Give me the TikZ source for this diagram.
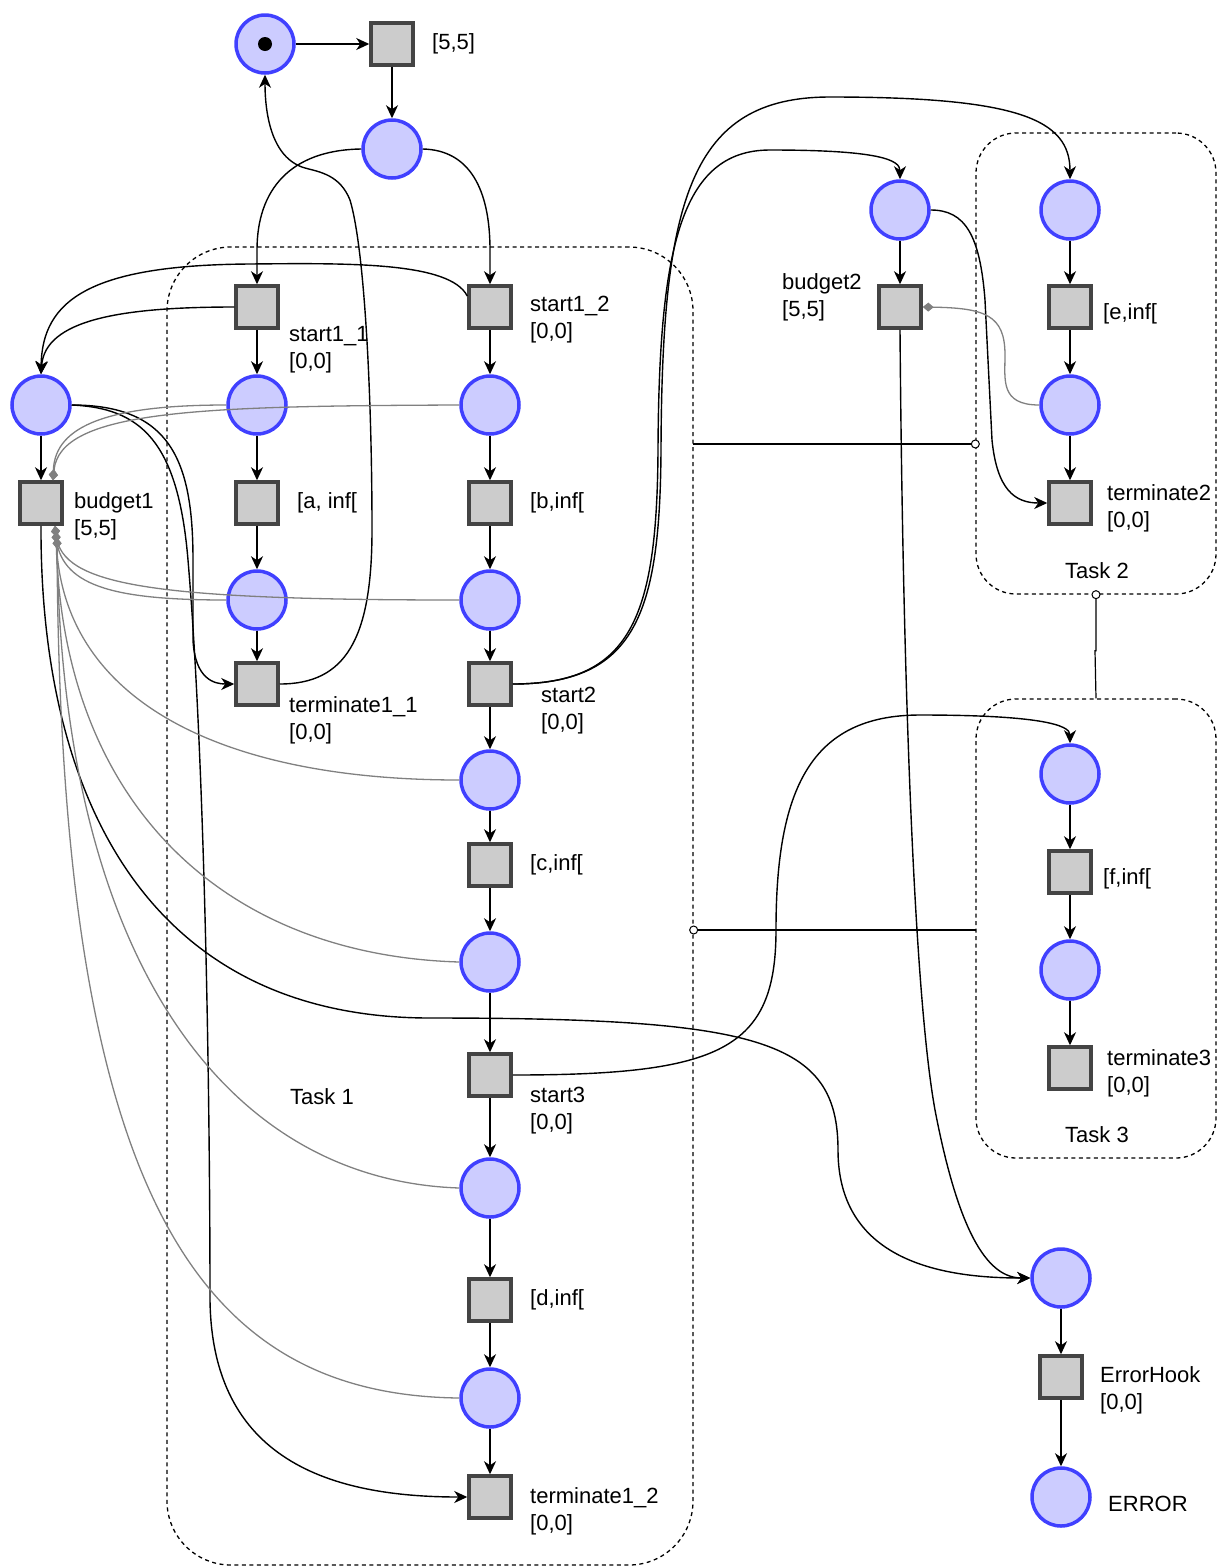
\documentclass[tikz,border=0pt]{standalone}
\usepackage{fontspec}
\setmainfont{Liberation Sans}
\usetikzlibrary{arrows.meta}
\definecolor{pfill}{HTML}{CCCCFF}
\definecolor{pline}{HTML}{4040FF}
\definecolor{tfill}{HTML}{CCCCCC}
\definecolor{tline}{HTML}{444444}
\definecolor{rdgray}{HTML}{808080}
\begin{document}
\begin{tikzpicture}[x=1pt,y=-1pt,
  font=\fontsize{22}{27}\selectfont,
  place/.style={circle, draw=pline, fill=pfill, line width=3.5pt, minimum size=58pt, inner sep=0pt},
  trans/.style={rectangle, draw=tline, fill=tfill, line width=3.5pt, minimum size=42pt, inner sep=0pt},
  lbl/.style={anchor=west, inner sep=0pt, align=left},
  arc/.style={draw=black, line width=1.4pt, -{Stealth[length=13pt,width=12pt,inset=4pt]}},
  rd/.style={draw=rdgray, line width=1.3pt, -{Diamond[length=11pt,width=9pt,fill=rdgray]}},
  taskbox/.style={rectangle, draw=black, dash pattern=on 4pt off 3.5pt, line width=1.3pt, rounded corners=#1, inner sep=0pt},
  link/.style={draw=black, line width=1.2pt},
  ring/.style={circle, draw=black, fill=white, line width=1pt, minimum size=8pt, inner sep=0pt}]
\useasboundingbox (0,0) rectangle (1217,1567);

% task boxes
\node[taskbox=64pt, minimum width=526pt, minimum height=1318pt] (task1) at (430,906) {};
\node[taskbox=40pt, minimum width=240pt, minimum height=461pt] (task2) at (1096,363.5) {};
\node[taskbox=40pt, minimum width=240pt, minimum height=459pt] (task3) at (1096,928.5) {};

% places and transitions
\node[place] (p0) at (265,44) {};
\node[circle, fill=black, minimum size=14pt, inner sep=0pt] (tok) at (265,44) {};
\node[trans] (t0) at (392,44) {};
\node[place] (p1) at (392,149) {};
\node[trans] (ts11) at (257,307) {};
\node[trans] (ts12) at (490,307) {};
\node[place] (pb1) at (41,405) {};
\node[trans] (tb1) at (41,503) {};
\node[place] (pa) at (257,405) {};
\node[trans] (ta) at (257,503) {};
\node[place] (pa2) at (257,600) {};
\node[trans] (tt11) at (257,684) {};
\node[place] (pb) at (490,405) {};
\node[trans] (tb) at (490,503) {};
\node[place] (pb2) at (490,600) {};
\node[trans] (ts2) at (490,684) {};
\node[place] (pc) at (490,780) {};
\node[trans] (tc) at (490,865) {};
\node[place] (pc2) at (490,962) {};
\node[trans] (ts3) at (490,1075) {};
\node[place] (pd) at (490,1188) {};
\node[trans] (td) at (490,1300) {};
\node[place] (pd2) at (490,1398) {};
\node[trans] (tt12) at (490,1497) {};
\node[place] (pb2p) at (900,210) {};
\node[trans] (tb2) at (900,307) {};
\node[place] (pe) at (1070,210) {};
\node[trans] (te) at (1070,307) {};
\node[place] (pe2) at (1070,405) {};
\node[trans] (tt2) at (1070,503) {};
\node[place] (pf) at (1070,774) {};
\node[trans] (tf) at (1070,872) {};
\node[place] (pf2) at (1070,970) {};
\node[trans] (tt3) at (1070,1068) {};
\node[place] (perr) at (1061,1278) {};
\node[trans] (teh) at (1061,1377) {};
\node[place] (perror) at (1061,1497) {};

% labels
\node[lbl] (l0) at (432,44) {[5,5]};
\node[lbl] (l11) at (289,350) {start1\_1\\{}[0,0]};
\node[lbl] (l12) at (530,320) {start1\_2\\{}[0,0]};
\node[lbl] (lb1) at (74,516) {budget1\\{}[5,5]};
\node[lbl] (la) at (297,503) {[a, inf[};
\node[lbl] (lb) at (530,503) {[b,inf[};
\node[lbl] (lt11) at (289,720) {terminate1\_1\\{}[0,0]};
\node[lbl] (ls2) at (541,711) {start2\\{}[0,0]};
\node[lbl] (lc) at (530,865) {[c,inf[};
\node[lbl] (ls3) at (530,1111) {start3\\{}[0,0]};
\node[lbl] (ld) at (530,1300) {[d,inf[};
\node[lbl] (lt12) at (530,1511) {terminate1\_2\\{}[0,0]};
\node (ltask1) at (322,1097) {Task 1};
\node[lbl] (lb2) at (782,297) {budget2\\{}[5,5]};
\node[lbl] (le) at (1103,314) {[e,inf[};
\node[lbl] (lt2) at (1107,508) {terminate2\\{}[0,0]};
\node (ltask2) at (1097,571) {Task 2};
\node[lbl] (lf) at (1103,879) {[f,inf[};
\node[lbl] (lt3) at (1107,1073) {terminate3\\{}[0,0]};
\node (ltask3) at (1097,1135) {Task 3};
\node[lbl] (leh) at (1100,1390) {ErrorHook\\{}[0,0]};
\node[lbl] (lerr) at (1108,1504) {ERROR};

% links between task boxes
\coordinate (k1) at (693,444);
\coordinate (k2) at (976,930);
\draw[link] (k1) -- (k1 -| task2.west);
\node[ring] (r1) at (k1 -| task2.west) {};
\draw[link] (k2) -- (k2 -| task1.east);
\node[ring] (r2) at (k2 -| task1.east) {};
\draw[link] (task2.south) -- ++(0,56) -- ++(-1,0) -- (task3.north);
\node[ring] (r3) at (task2.south) {};

% straight arcs
\foreach \a/\b in {p0/t0,t0/p1,ts11/pa,pa/ta,ta/pa2,pa2/tt11,ts12/pb,pb/tb,tb/pb2,pb2/ts2,ts2/pc,pc/tc,tc/pc2,pc2/ts3,ts3/pd,pd/td,td/pd2,pd2/tt12,pb1/tb1,pb2p/tb2,pe/te,te/pe2,pe2/tt2,pf/tf,tf/pf2,pf2/tt3,perr/teh,teh/perror}
  \draw[arc] (\a) -- (\b);

% curved arcs
\draw[arc] (p1.west) .. controls (290,150) and (257,190) .. (257,250) -- (ts11.north);
\draw[arc] (p1.east) .. controls (470,150) and (490,190) .. (490,250) -- (ts12.north);
\draw[arc] (tt11.east) .. controls (345,684) and (372,640) .. (372,530)
   .. controls (372,400) and (365,250) .. (350,200)
   .. controls (340,175) and (320,172) .. (305,168)
   .. controls (270,158) and (265,110) .. (p0.south);
\draw[arc] (ts11.west) .. controls (120,307) and (45,320) .. (pb1.north);
\draw[arc] ([yshift=11pt]ts12.west) .. controls (450,262) and (350,263) .. (250,264)
   .. controls (90,265) and (42,300) .. (pb1.north);
\draw[arc] (pb1.east) .. controls (170,405) and (193,460) .. (193,560) -- (193,640)
   .. controls (195,680) and (215,684) .. (tt11.west);
\draw[arc] (pb1.east) .. controls (140,408) and (178,440) .. (188,560)
   .. controls (205,760) and (210,1100) .. (210,1300)
   .. controls (212,1460) and (330,1497) .. (tt12.west);
\draw[arc] (tb1.south) .. controls (40,800) and (150,1018) .. (430,1018)
   .. controls (760,1018) and (838,1040) .. (838,1150)
   .. controls (838,1265) and (950,1278) .. (perr.west);
\draw[arc] (tb2.south) .. controls (903,700) and (915,1000) .. (935,1110)
   .. controls (960,1240) and (990,1278) .. (perr.west);
\draw[arc] (pb2p.east) .. controls (965,210) and (980,235) .. (985,300) -- (992,440)
   .. controls (997,490) and (1015,503) .. (tt2.west);
\draw[arc] (ts2.east) .. controls (630,684) and (657,620) .. (658,450)
   .. controls (659,250) and (680,150) .. (770,150)
   .. controls (880,150) and (900,160) .. (pb2p.north);
\draw[arc] (ts2.east) .. controls (635,684) and (660,615) .. (661,450)
   .. controls (662,200) and (690,97) .. (830,97)
   .. controls (1020,97) and (1070,120) .. (pe.north);
\draw[arc] (ts3.east) .. controls (720,1075) and (776,1050) .. (776,930)
   .. controls (776,790) and (810,715) .. (920,715)
   .. controls (1040,715) and (1070,725) .. (pf.north);

% read arcs (grey, diamond at the budget transition)
\draw[rd] (pa.west) .. controls (110,405) and (55,425) .. ([xshift=12pt]tb1.north);
\draw[rd] (pb.west) .. controls (200,406) and (60,410) .. ([xshift=12pt]tb1.north);
\draw[rd] (pa2.west) .. controls (110,600) and (60,585) .. ([xshift=14pt]tb1.south);
\draw[rd] (pb2.west) .. controls (150,600) and (62,585) .. ([xshift=14pt]tb1.south);
\draw[rd] (pc.west) .. controls (220,780) and (62,700) .. ([xshift=15pt,yshift=-6pt]tb1.south);
\draw[rd] (pc2.west) .. controls (220,955) and (62,800) .. ([xshift=15pt,yshift=-6pt]tb1.south);
\draw[rd] (pd.west) .. controls (220,1180) and (62,950) .. ([xshift=16pt,yshift=-12pt]tb1.south);
\draw[rd] (pd2.west) .. controls (200,1395) and (60,1200) .. ([xshift=16pt,yshift=-12pt]tb1.south);
\draw[rd] (pe2.west) .. controls (1000,405) and (1005,380) .. (1005,355)
   .. controls (1005,315) and (985,308) .. (tb2.east);
\end{tikzpicture}
\end{document}
